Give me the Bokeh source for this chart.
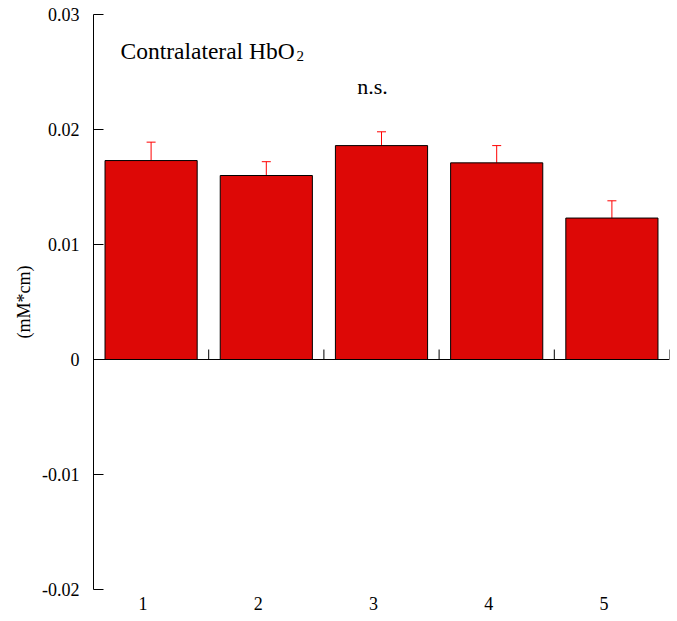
from bokeh.plotting import figure
from bokeh.models import (ColumnDataSource, Whisker, TeeHead, Span, Label,
                          FixedTicker, Range1d)
from bokeh.embed import file_html
from bokeh.resources import INLINE

# ---- data ----
categories = [1, 2, 3, 4, 5]
category_labels = ["1", "2", "3", "4", "5"]
means = [0.0173, 0.0160, 0.0186, 0.0171, 0.0123]
errors = [0.0016, 0.0012, 0.0012, 0.0015, 0.0015]
y_ticks = [-0.02, -0.01, 0, 0.01, 0.02, 0.03]
y_tick_labels = ["-0.02", "-0.01", "0", "0.01", "0.02", "0.03"]
title_main = "Contralateral HbO"
title_sub = "2"
sig_text = "n.s."
y_label = "(mM*cm)"

SERIF = "Liberation Serif"
BAR_RED = "#DD0806"
ERR_RED = "#FF0000"

y_min, y_max = -0.02, 0.03
x_min, x_max = 0.5, 5.5

W, H = 677, 621
left, right, top, bottom = 93, 8, 14, 32
frame_w = W - left - right
frame_h = H - top - bottom

p = figure(width=W, height=H, output_backend="svg", toolbar_location=None,
           x_range=Range1d(x_min, x_max), y_range=Range1d(y_min, y_max),
           min_border_left=left, min_border_right=right,
           min_border_top=top, min_border_bottom=bottom)
p.outline_line_color = None
p.grid.visible = False
p.background_fill_color = "white"
p.border_fill_color = "white"

# y axis
ya = p.yaxis[0]
ya.ticker = FixedTicker(ticks=y_ticks)
ya.major_label_overrides = {t: l for t, l in zip(y_ticks, y_tick_labels)}
ya.major_tick_in = 10
ya.major_tick_out = 0
ya.minor_tick_in = 0
ya.minor_tick_out = 0
ya.axis_line_color = "black"
ya.major_tick_line_color = "black"
ya.major_label_text_font = SERIF
ya.major_label_text_font_size = "18px"
ya.major_label_text_font_style = "normal"
ya.major_label_text_color = "black"
ya.major_label_standoff = 14
ya.axis_label = y_label
ya.axis_label_text_font = SERIF
ya.axis_label_text_font_size = "18px"
ya.axis_label_text_font_style = "normal"
ya.axis_label_text_color = "black"
ya.axis_label_standoff = 5

# x axis: only category labels, drawn below the frame (slightly left of centre)
label_shift = 8.0 / frame_w * (x_max - x_min)
x_tick_pos = [c - label_shift for c in categories]
xa = p.xaxis[0]
xa.ticker = FixedTicker(ticks=x_tick_pos)
xa.major_label_overrides = {t: l for t, l in zip(x_tick_pos, category_labels)}
xa.axis_line_color = None
xa.major_tick_line_color = None
xa.minor_tick_line_color = None
xa.major_tick_in = 0
xa.major_tick_out = 0
xa.major_label_standoff = 7
xa.major_label_text_font = SERIF
xa.major_label_text_font_size = "18px"
xa.major_label_text_color = "black"

# bars
src = ColumnDataSource(dict(
    x=categories, top=means,
    lower=means,
    upper=[m + e for m, e in zip(means, errors)],
))
p.vbar(x="x", top="top", bottom=0, width=0.8, source=src,
       fill_color=BAR_RED, line_color="black", line_width=1)

# error bars (upper only)
p.add_layout(Whisker(source=src, base="x", lower="lower", upper="upper",
                     dimension="height", line_color=ERR_RED, line_width=1,
                     lower_head=None,
                     upper_head=TeeHead(size=9, line_color=ERR_RED, line_width=1)))

# zero line with upward ticks at category boundaries
p.add_layout(Span(location=0, dimension="width", line_color="black", line_width=1))
bounds = [c + 0.5 for c in categories]
tick_len = 10.0 / frame_h * (y_max - y_min)
p.segment(x0=bounds, y0=[0] * len(bounds), x1=bounds, y1=[tick_len] * len(bounds),
          line_color="black", line_width=1)

# title (with subscript) and significance
p.add_layout(Label(x=0.734, y=0.0268, text=title_main, text_font=SERIF,
                   text_font_size="23.5px", text_color="black",
                   text_align="left", text_baseline="alphabetic"))
p.add_layout(Label(x=0.734, y=0.0268, x_offset=176, y_offset=-5, text=title_sub,
                   text_font=SERIF, text_font_size="15px", text_color="black",
                   text_align="left", text_baseline="alphabetic"))
p.add_layout(Label(x=2.79, y=0.0237, text=sig_text, text_font=SERIF,
                   text_font_size="22px", text_color="black",
                   text_align="left", text_baseline="alphabetic"))

open("out.html", "w").write(file_html(p, INLINE))
